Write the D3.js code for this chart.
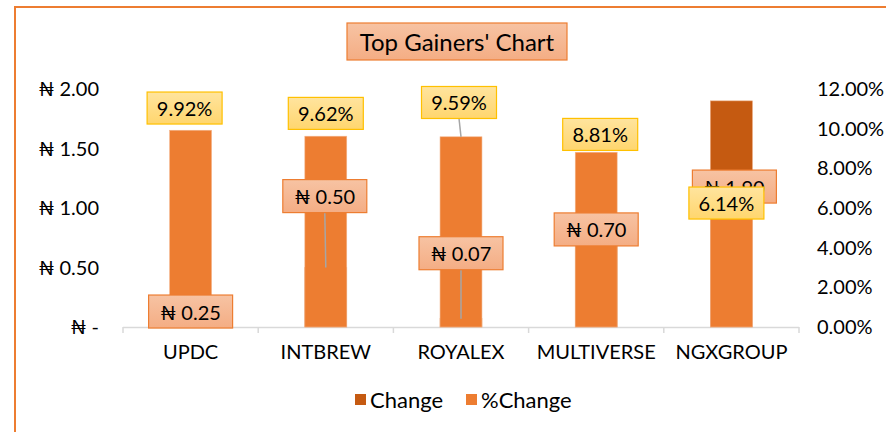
<!DOCTYPE html>
<html>
<head>
<meta charset="utf-8">
<script src="https://cdn.jsdelivr.net/npm/d3@7/dist/d3.min.js"></script>
<style>
  html, body { margin: 0; padding: 0; background: #fff; }
  svg { display: block; }
  text { font-family: Lato, "DejaVu Sans", sans-serif; fill: #000; }
</style>
</head>
<body>
<svg id="chart" width="886" height="432"></svg>
<script>
// ---- data ----
const categories = ["UPDC", "INTBREW", "ROYALEX", "MULTIVERSE", "NGXGROUP"];
const change = [0.25, 0.50, 0.07, 0.70, 1.90];
const pctChange = [9.92, 9.62, 9.59, 8.81, 6.14];
const leftTicks = [0, 0.5, 1.0, 1.5, 2.0];
const rightTicks = [0, 2, 4, 6, 8, 10, 12];
const seriesNames = ["Change", "%Change"];
const title = "Top Gainers' Chart";

// ---- label layout (in axis units; manually moved labels) ----
const changeLabelAt = [0.13, 1.10, 0.62, 0.82, 1.18];
const changeLabelDx = [0, -1, 0, 0, 3];
const changeLeader = [false, true, true, false, false];
const pctLabelAt = [11.04, 10.77, 11.32, 9.71, 6.25];
const pctLabelDx = [-6, 0, -2, 4, -5];
const pctLeader = [false, false, true, false, false];

const svg = d3.select("#chart");
const defs = svg.append("defs");
function grad(id, c1, c2) {
  const g = defs.append("linearGradient").attr("id", id).attr("x1", 0).attr("y1", 0).attr("x2", 0).attr("y2", 1);
  g.append("stop").attr("offset", "0%").attr("stop-color", c1);
  g.append("stop").attr("offset", "100%").attr("stop-color", c2);
}
grad("salmon", "#f7c3a3", "#f4ad84");
grad("yellow", "#ffe49e", "#ffd66e");

// chart frame
svg.append("rect").attr("x", 15).attr("y", 7).attr("width", 900).attr("height", 450)
  .attr("fill", "#fff").attr("stroke", "#ed7d31").attr("stroke-width", 2);

const x = d3.scaleBand().domain(categories).range([123, 799]).paddingInner(0.69).paddingOuter(0.345);
const step = x.step();
const yL = d3.scaleLinear().domain([0, 2]).range([327, 89]);
const yR = d3.scaleLinear().domain([0, 12]).range([327, 89]);

// title
const tg = svg.append("g");
tg.append("rect").attr("x", 347).attr("y", 23).attr("width", 220).attr("height", 37)
  .attr("fill", "url(#salmon)").attr("stroke", "#ed7d31").attr("stroke-width", 1.2);
tg.append("text").attr("x", 457).attr("y", 41).attr("text-anchor", "middle").attr("dominant-baseline", "central")
  .attr("font-size", 24).text(title);

// left axis labels
svg.append("g").selectAll("text").data(leftTicks).join("text")
  .attr("x", 99).attr("y", d => yL(d) - 1).attr("text-anchor", "end").attr("dominant-baseline", "central")
  .attr("font-size", 20)
  .text(d => d === 0 ? "₦ -" : "₦ " + d3.format(".2f")(d));

// right axis labels
svg.append("g").selectAll("text").data(rightTicks).join("text")
  .attr("x", 817).attr("y", d => yR(d) - 1).attr("text-anchor", "start").attr("dominant-baseline", "central")
  .attr("font-size", 20)
  .text(d => d3.format(".2f")(d) + "%");

// x axis line + ticks
const axisG = svg.append("g");
axisG.append("line").attr("x1", 123).attr("x2", 799).attr("y1", 327.5).attr("y2", 327.5)
  .attr("stroke", "#d9d9d9").attr("stroke-width", 1.5);
const bounds = categories.map((c, i) => 123 + i * step).concat([799]);
axisG.selectAll("line.tick").data(bounds).join("line").attr("class", "tick")
  .attr("x1", d => d).attr("x2", d => d).attr("y1", 327).attr("y2", 333)
  .attr("stroke", "#d9d9d9").attr("stroke-width", 1.5);
axisG.selectAll("text").data(categories).join("text")
  .attr("x", d => x(d) + x.bandwidth() / 2).attr("y", 351)
  .attr("text-anchor", "middle").attr("dominant-baseline", "central").attr("font-size", 20)
  .text(d => d);

// bars: Change (primary) then %Change (secondary) on top
svg.append("g").selectAll("rect").data(categories).join("rect")
  .attr("x", d => x(d)).attr("width", x.bandwidth())
  .attr("y", (d, i) => yL(change[i])).attr("height", (d, i) => yL(0) - yL(change[i]))
  .attr("fill", "#c55a11").attr("stroke", "#e8a070").attr("stroke-width", 0.6);
svg.append("g").selectAll("rect").data(categories).join("rect")
  .attr("x", d => x(d)).attr("width", x.bandwidth())
  .attr("y", (d, i) => yR(pctChange[i])).attr("height", (d, i) => yR(0) - yR(pctChange[i]))
  .attr("fill", "#ed7d31").attr("stroke", "#f3b48a").attr("stroke-width", 0.6);

// labels
function drawLabel(g, cx, cy, txt, fill, stroke, w, h) {
  g.append("rect").attr("x", cx - w / 2).attr("y", cy - h / 2).attr("width", w).attr("height", h)
    .attr("fill", fill).attr("stroke", stroke).attr("stroke-width", 1.2);
  g.append("text").attr("x", cx).attr("y", cy).attr("text-anchor", "middle")
    .attr("dominant-baseline", "central").attr("font-size", 20).text(txt);
  return { top: cy - h / 2, bottom: cy + h / 2 };
}
const leaderG = svg.append("g");
const labelG = svg.append("g");
categories.forEach((c, i) => {
  const cx = x(c) + x.bandwidth() / 2;
  const g = labelG.append("g");
  const lx = cx + changeLabelDx[i];
  const b = drawLabel(g, lx, yL(changeLabelAt[i]), "₦ " + d3.format(".2f")(change[i]), "url(#salmon)", "#ed7d31", 84, 33);
  if (changeLeader[i]) {
    leaderG.append("line").attr("x1", lx).attr("y1", b.bottom).attr("x2", cx).attr("y2", yL(change[i]))
      .attr("stroke", "#a6a6a6").attr("stroke-width", 1.5);
  }
});
categories.forEach((c, i) => {
  const cx = x(c) + x.bandwidth() / 2;
  const g = labelG.append("g");
  const lx = cx + pctLabelDx[i];
  const b = drawLabel(g, lx, yR(pctLabelAt[i]), d3.format(".2f")(pctChange[i]) + "%", "url(#yellow)", "#ffc000", 75, 32);
  if (pctLeader[i]) {
    leaderG.append("line").attr("x1", lx).attr("y1", b.bottom).attr("x2", cx).attr("y2", yR(pctChange[i]))
      .attr("stroke", "#a6a6a6").attr("stroke-width", 1.5);
  }
});

// legend
const lg = svg.append("g");
const legColors = ["#c55a11", "#ed7d31"];
const legX = [355, 466];
seriesNames.forEach((s, i) => {
  lg.append("rect").attr("x", legX[i]).attr("y", 394).attr("width", 11).attr("height", 11).attr("fill", legColors[i]);
  lg.append("text").attr("x", legX[i] + 15).attr("y", 399).attr("dominant-baseline", "central")
    .attr("font-size", 22).text(s);
});
</script>
</body>
</html>
